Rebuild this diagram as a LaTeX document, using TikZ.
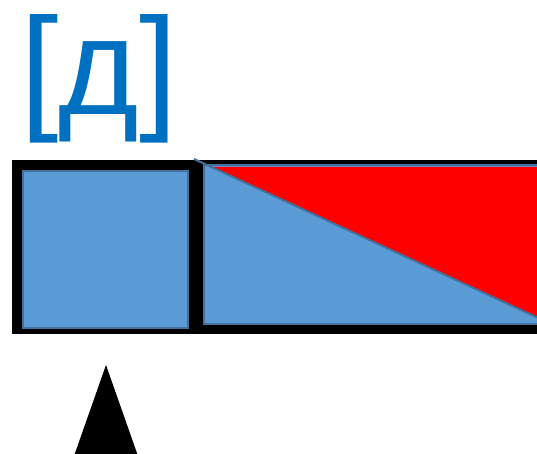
\documentclass[tikz,border=0pt]{standalone}
\usepackage{fontspec}
\setmainfont{Liberation Sans}
\definecolor{txtblue}{HTML}{0070C0}
\definecolor{fillblue}{HTML}{5B9BD5}
\definecolor{edgeblue}{HTML}{41719C}
\begin{document}
\begin{tikzpicture}[x=1pt,y=-1pt,
  bluebox/.style={fill=fillblue,draw=edgeblue,line width=2pt},
  label/.style={text=txtblue,inner sep=0pt,font=\fontsize{138}{138}\selectfont}]
\useasboundingbox (0,0) rectangle (537,454);
\begin{scope}
\clip (0,0) rectangle (537,454);
% outer black frame
\fill[black] (12,160) rectangle (545,334);
% left square
\path[bluebox] (23,171) rectangle (188,328);
% right rectangle
\path[bluebox] (204,165) rectangle (560,324);
% red triangle
\fill[red] (211,167) -- (560,167) -- (560,328) -- cycle;
% diagonal line
\coordinate (d1) at (194,159);
\coordinate (d2) at (560,328);
\draw[edgeblue,line width=2pt] (d1) -- (d2);
% upward triangle
\fill[black] (106,365) -- (138,456) -- (74,456) -- cycle;
\end{scope}
\node[label,anchor=base west] (t) at (20,115) {[д]};
\end{tikzpicture}
\end{document}
